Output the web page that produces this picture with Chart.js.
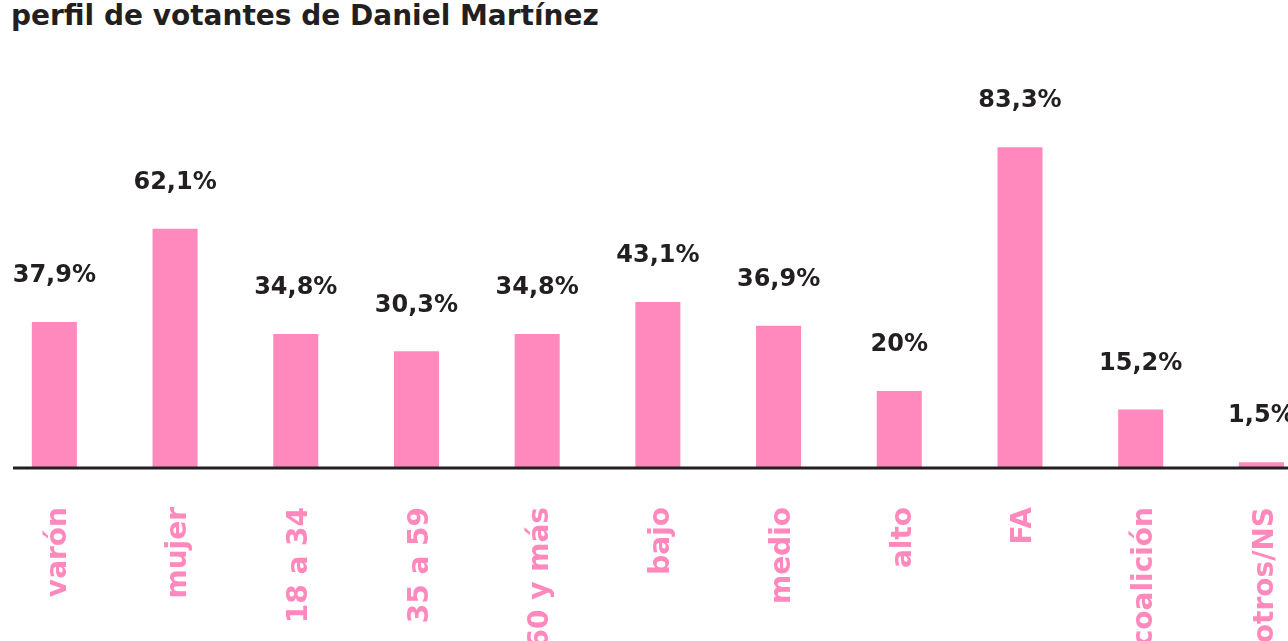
<!DOCTYPE html>
<html>
<head>
<meta charset="utf-8">
<script src="https://cdn.jsdelivr.net/npm/chart.js@4"></script>
<style>
  html, body { margin: 0; padding: 0; background: #fff; overflow: hidden; }
  body { width: 1288px; height: 641px; position: relative; }
  #titulo {
    position: absolute; left: 11px; top: -1px; margin: 0;
    font-family: 'DejaVu Sans', sans-serif; font-weight: bold;
    font-size: 28px; color: #231f20; white-space: nowrap;
  }
  #perfilChart { position: absolute; left: -6px; top: 0; }
</style>
</head>
<body>
<h1 id="titulo">perfil de votantes de Daniel Martínez</h1>
<canvas id="perfilChart" width="1340" height="641"></canvas>
<script>
// categorías y valores del gráfico
const categorias = ['varón', 'mujer', '18 a 34', '35 a 59', '60 y más', 'bajo', 'medio', 'alto', 'FA', 'coalición', 'otros/NS'];
const porcentajes = [37.9, 62.1, 34.8, 30.3, 34.8, 43.1, 36.9, 20, 83.3, 15.2, 1.5];
const etiquetas = ['37,9%', '62,1%', '34,8%', '30,3%', '34,8%', '43,1%', '36,9%', '20%', '83,3%', '15,2%', '1,5%'];

const rosa = '#ff88bc';
const negro = '#231f20';
const fuente = "'DejaVu Sans', sans-serif";

// Etiquetas de valor encima de las barras y línea base
const etiquetasPlugin = {
    id: 'etiquetasPlugin',
    afterDatasetsDraw(chart) {
        const ctx = chart.ctx;
        const meta = chart.getDatasetMeta(0);
        ctx.save();
        ctx.fillStyle = negro;
        ctx.font = 'bold 24px ' + fuente;
        ctx.textAlign = 'center';
        ctx.textBaseline = 'middle';
        meta.data.forEach((bar, i) => {
            ctx.fillText(etiquetas[i], bar.x, bar.y - 46);
        });
        // línea base
        const y0 = chart.scales.y.getPixelForValue(0);
        ctx.strokeStyle = negro;
        ctx.lineWidth = 3;
        ctx.beginPath();
        ctx.moveTo(19, y0);
        ctx.lineTo(chart.width, y0);
        ctx.stroke();
        ctx.restore();
    }
};

const data = {
    labels: categorias,
    datasets: [{
        data: porcentajes,
        backgroundColor: rosa,
        borderWidth: 0,
        barPercentage: 0.373,
        categoryPercentage: 1
    }]
};

const options = {
    responsive: false,
    animation: false,
    layout: { padding: 0 },
    plugins: {
        legend: { display: false },
        tooltip: { enabled: false }
    },
    scales: {
        x: {
            grid: { display: false, drawTicks: false },
            border: { display: false },
            ticks: {
                color: rosa,
                minRotation: 90,
                maxRotation: 90,
                autoSkip: false,
                padding: 39,
                labelOffset: 4,
                font: { size: 28, weight: 'bold', family: fuente }
            },
            afterFit(scale) { scale.height = 173; }
        },
        y: {
            display: false,
            min: 0,
            max: 121.5
        }
    }
};

new Chart('perfilChart', { type: 'bar', data, options, plugins: [etiquetasPlugin] });
</script>
</body>
</html>
